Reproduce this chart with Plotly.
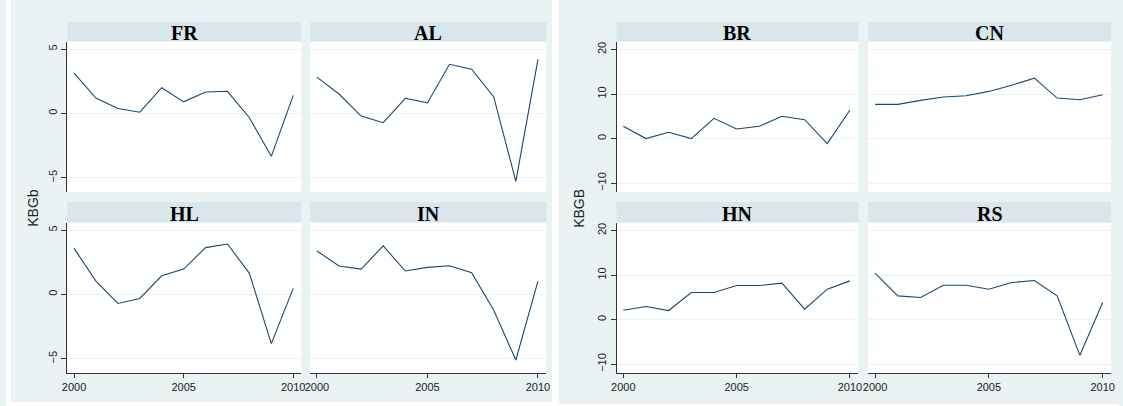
'''
plot.py
Overview:
    Two Stata-style small-multiple panels of KBG by country, 2000-2010.
    Left block: FR, AL, HL, IN (KBGb). Right block: BR, CN, HN, RS (KBGB).
'''

import plotly.graph_objects as go

'''
DATA
values read off the reference picture
'''
years = [2000, 2001, 2002, 2003, 2004, 2005, 2006, 2007, 2008, 2009, 2010]

fr = [3.13, 1.2, 0.38, 0.1, 2.0, 0.9, 1.67, 1.72, -0.33, -3.33, 1.4]
al = [2.82, 1.51, -0.2, -0.72, 1.18, 0.82, 3.82, 3.44, 1.28, -5.28, 4.2]
hl = [3.58, 1.04, -0.7, -0.31, 1.45, 1.97, 3.64, 3.92, 1.64, -3.82, 0.47]
in_ = [3.38, 2.21, 1.97, 3.77, 1.82, 2.1, 2.23, 1.69, -1.22, -5.09, 1.04]

br = [2.76, 0.0, 1.42, 0.0, 4.55, 2.16, 2.76, 5.0, 4.25, -1.12, 6.42]
cn = [7.69, 7.69, 8.58, 9.33, 9.63, 10.6, 12.0, 13.58, 9.1, 8.73, 9.85]
hn = [2.1, 2.93, 2.03, 6.08, 6.08, 7.65, 7.65, 8.18, 2.33, 6.83, 8.7]
rs = [10.43, 5.33, 4.95, 7.73, 7.73, 6.83, 8.33, 8.78, 5.33, -8.03, 3.83]

panel_names = ['FR', 'AL', 'HL', 'IN', 'BR', 'CN', 'HN', 'RS']
panel_values = [fr, al, hl, in_, br, cn, hn, rs]

x_ticks = [2000, 2005, 2010]
y_ticks_left = [-5, 0, 5]
y_ticks_right = [-10, 0, 10, 20]
y_title_left = 'KBGb'
y_title_right = 'KBGB'

'''
LAYOUT
pixel geometry of the 1123x406 picture
'''
W, H = 1123, 406

def px(x):
    return x / W

def py(y):
    return 1 - y / H

BG = '#EAF2F3'
STRIP = '#D9E6EC'
LINE = '#1A476F'

cols = [(62, 298), (307, 545), (616, 860), (870, 1115)]
rows = [(42, 192), (223, 373)]
strips = [(22, 41), (202, 222)]

# (col, row) for each panel, in panel_names order
cells = [(0, 0), (1, 0), (0, 1), (1, 1), (2, 0), (3, 0), (2, 1), (3, 1)]

fig = go.Figure()
layout = dict(
    width=W, height=H,
    margin=dict(l=0, r=0, t=0, b=0),
    paper_bgcolor=BG,
    plot_bgcolor='white',
    showlegend=False,
    font=dict(family='Liberation Sans, Arial', size=11, color='#222'),
    shapes=[], annotations=[],
)

# white page around / between the two graph regions
white_bits = [(0, 5, 0, 406), (551, 558, 0, 406), (5, 558, 402, 406), (558, 1123, 404, 406)]
for x0, x1, y0, y1 in white_bits:
    layout['shapes'].append(dict(type='rect', xref='paper', yref='paper', layer='below',
                                 x0=px(x0), x1=px(x1), y0=py(y1), y1=py(y0),
                                 fillcolor='white', line=dict(width=0)))

for i, (name, vals) in enumerate(zip(panel_names, panel_values)):
    n = i + 1
    c, r = cells[i]
    left_block = c < 2
    first_col = c in (0, 2)
    bottom_row = r == 1
    xs = '' if n == 1 else str(n)

    fig.add_trace(go.Scatter(x=years, y=vals, mode='lines',
                             line=dict(color=LINE, width=1.1),
                             xaxis='x' + xs, yaxis='y' + xs,
                             hoverinfo='skip'))

    layout['xaxis' + xs] = dict(
        domain=[px(cols[c][0]), px(cols[c][1])],
        anchor='y' + xs,
        range=[1999.7, 2010.37],
        tickvals=x_ticks,
        showticklabels=bottom_row,
        ticks='outside' if bottom_row else '',
        ticklen=4, tickcolor='#333',
        showline=bottom_row, linecolor='#333', linewidth=1,
        showgrid=False, zeroline=False,
        tickfont=dict(size=11, color='#222'),
    )
    layout['yaxis' + xs] = dict(
        domain=[py(rows[r][1]), py(rows[r][0])],
        anchor='x' + xs,
        range=[-6.1, 5.55] if left_block else [-12.0, 21.7],
        tickvals=y_ticks_left if left_block else y_ticks_right,
        showticklabels=first_col,
        ticks='outside' if first_col else '',
        ticklen=5, tickcolor='#333',
        tickangle=-90,
        showline=first_col, linecolor='#333', linewidth=1,
        showgrid=True, gridcolor=BG, gridwidth=1,
        zeroline=False,
        tickfont=dict(size=11, color='#222'),
    )

    # strip header
    layout['shapes'].append(dict(type='rect', xref='paper', yref='paper', layer='below',
                                 x0=px(cols[c][0]), x1=px(cols[c][1]),
                                 y0=py(strips[r][1]), y1=py(strips[r][0]),
                                 fillcolor=STRIP, line=dict(width=0)))
    layout['annotations'].append(dict(
        text='<b>' + name + '</b>', xref='paper', yref='paper',
        x=px((cols[c][0] + cols[c][1]) / 2),
        y=py((strips[r][0] + strips[r][1]) / 2 + 2),
        xanchor='center', yanchor='middle', showarrow=False,
        font=dict(family='Liberation Serif, Times New Roman', size=20, color='black')))

# y axis titles
layout['annotations'].append(dict(
    text=y_title_left, xref='paper', yref='paper', x=px(27), y=py(208),
    xanchor='center', yanchor='middle', textangle=-90, showarrow=False,
    font=dict(size=14, color='#222')))
layout['annotations'].append(dict(
    text=y_title_right, xref='paper', yref='paper', x=px(578), y=py(208),
    xanchor='center', yanchor='middle', textangle=-90, showarrow=False,
    font=dict(size=14, color='#222')))

fig.update_layout(**layout)
# page body margin would push the figure off the 1123x406 window
fig.write_html('out.html', config={'displayModeBar': False},
               post_script="document.body.style.margin='0';")
